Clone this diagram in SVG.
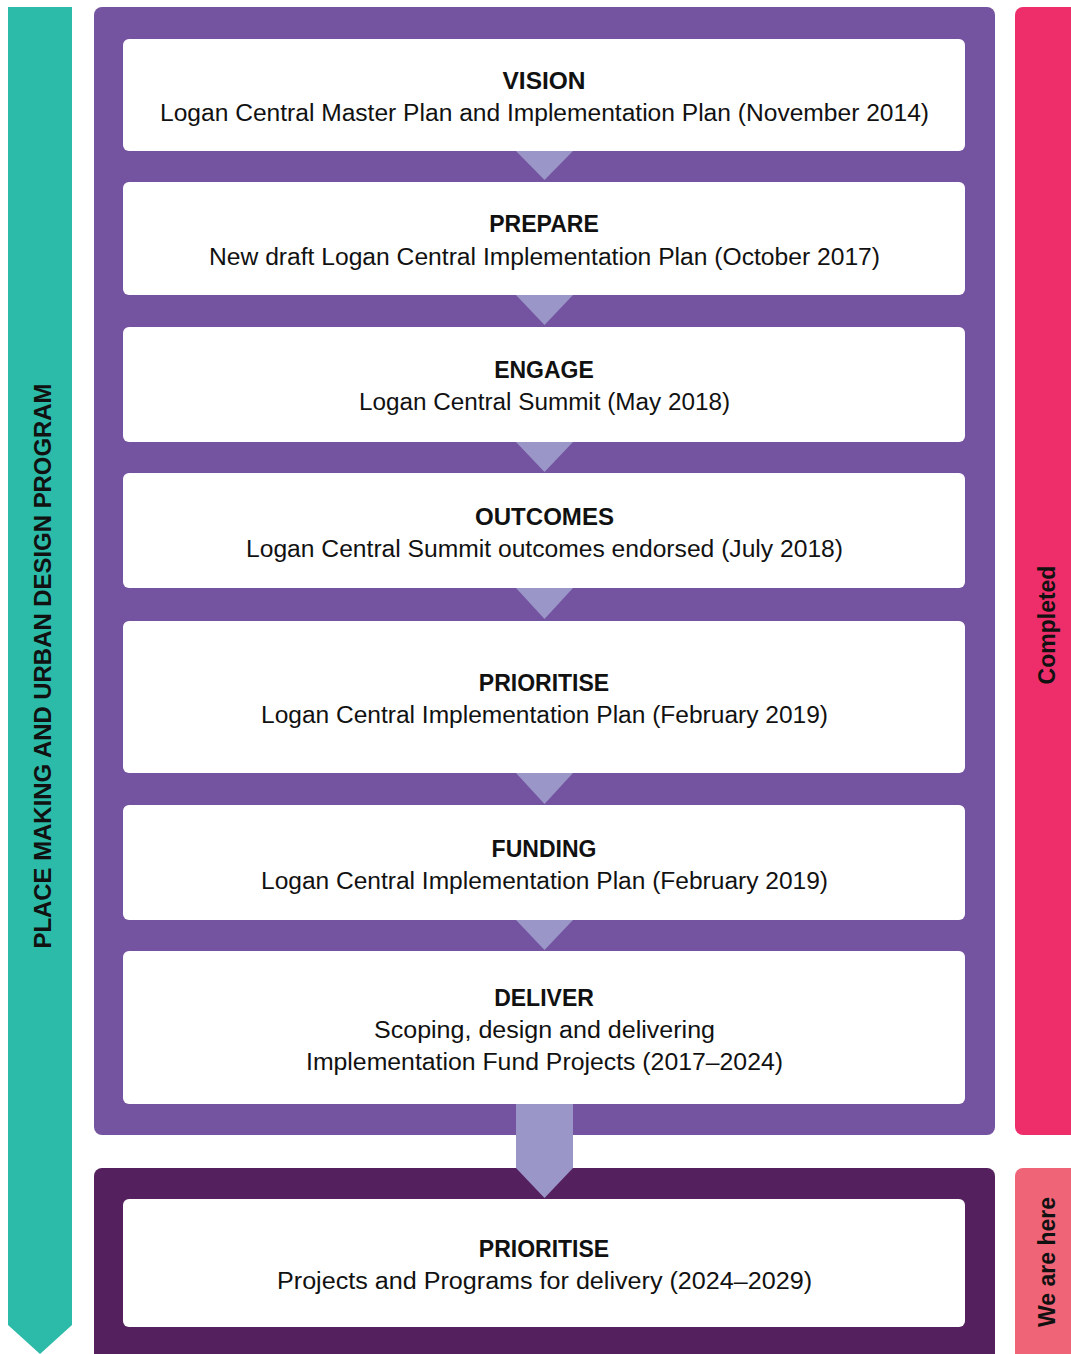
<svg xmlns="http://www.w3.org/2000/svg" width="1071" height="1354" viewBox="0 0 1071 1354">
<style>
.box{fill:#ffffff}
.tri{fill:#9a96c8}
.t{font-family:"Liberation Sans",Arial,sans-serif;font-weight:bold;font-size:23px;fill:#111;text-anchor:middle}
.s{font-family:"Liberation Sans",Arial,sans-serif;font-size:23px;fill:#111;text-anchor:middle}
.v{font-family:"Liberation Sans",Arial,sans-serif;font-weight:bold;font-size:23px;fill:#111;text-anchor:middle}
</style>
<rect width="1071" height="1354" fill="#ffffff"/>
<g id="side-program">
<path d="M8 7 H72 V1325 L40 1354 L8 1325 Z" fill="#2bbba8"/>
<text class="v" transform="translate(51 666) rotate(-90)" textLength="565" lengthAdjust="spacingAndGlyphs">PLACE MAKING AND URBAN DESIGN PROGRAM</text>
</g>
<g id="panel-completed">
<rect x="94" y="7" width="901" height="1128" rx="8" fill="#7453a0"/>
</g>
<g id="panel-current">
<rect x="94" y="1168" width="901" height="200" rx="8" fill="#55205e"/>
</g>
<g id="side-completed">
<rect x="1015" y="7" width="70" height="1128" rx="8" fill="#ee2e6a"/>
<text class="v" transform="translate(1055 625) rotate(-90)">Completed</text>
</g>
<g id="side-here">
<rect x="1015" y="1168" width="70" height="200" rx="8" fill="#f06477"/>
<text class="v" transform="translate(1055 1262) rotate(-90)">We are here</text>
</g>
<g id="connectors">
<polygon class="tri" points="516,151 573,151 544.5,180"/>
<polygon class="tri" points="516,295 573,295 544.5,325"/>
<polygon class="tri" points="516,442 573,442 544.5,472"/>
<polygon class="tri" points="516,588 573,588 544.5,619"/>
<polygon class="tri" points="516,773 573,773 544.5,804"/>
<polygon class="tri" points="516,920 573,920 544.5,950"/>
<polygon class="tri" points="516,1104 573,1104 573,1168 544.5,1198 516,1168"/>
</g>
<g id="vision">
<rect class="box" x="123" y="39" width="842" height="112" rx="6"/>
<text class="t" x="544" y="89" textLength="83" lengthAdjust="spacingAndGlyphs">VISION</text>
<text class="s" x="544.5" y="121" textLength="769" lengthAdjust="spacingAndGlyphs">Logan Central Master Plan and Implementation Plan (November 2014)</text>
</g>
<g id="prepare">
<rect class="box" x="123" y="182" width="842" height="113" rx="6"/>
<text class="t" x="544" y="232">PREPARE</text>
<text class="s" x="544.5" y="265" textLength="671" lengthAdjust="spacingAndGlyphs">New draft Logan Central Implementation Plan (October 2017)</text>
</g>
<g id="engage">
<rect class="box" x="123" y="327" width="842" height="115" rx="6"/>
<text class="t" x="544" y="378">ENGAGE</text>
<text class="s" x="544.5" y="410" textLength="371" lengthAdjust="spacingAndGlyphs">Logan Central Summit (May 2018)</text>
</g>
<g id="outcomes">
<rect class="box" x="123" y="473" width="842" height="115" rx="6"/>
<text class="t" x="544.5" y="525" textLength="139" lengthAdjust="spacingAndGlyphs">OUTCOMES</text>
<text class="s" x="544.5" y="557" textLength="597" lengthAdjust="spacingAndGlyphs">Logan Central Summit outcomes endorsed (July 2018)</text>
</g>
<g id="prioritise">
<rect class="box" x="123" y="621" width="842" height="152" rx="6"/>
<text class="t" x="544" y="691">PRIORITISE</text>
<text class="s" x="544.5" y="723" textLength="567" lengthAdjust="spacingAndGlyphs">Logan Central Implementation Plan (February 2019)</text>
</g>
<g id="funding">
<rect class="box" x="123" y="805" width="842" height="115" rx="6"/>
<text class="t" x="544" y="857">FUNDING</text>
<text class="s" x="544.5" y="889" textLength="567" lengthAdjust="spacingAndGlyphs">Logan Central Implementation Plan (February 2019)</text>
</g>
<g id="deliver">
<rect class="box" x="123" y="951" width="842" height="153" rx="6"/>
<text class="t" x="544" y="1006">DELIVER</text>
<text class="s" x="544.5" y="1038" textLength="341" lengthAdjust="spacingAndGlyphs">Scoping, design and delivering</text>
<text class="s" x="544.5" y="1070" textLength="477" lengthAdjust="spacingAndGlyphs">Implementation Fund Projects (2017–2024)</text>
</g>
<g id="prioritise-next">
<rect class="box" x="123" y="1199" width="842" height="128" rx="6"/>
<text class="t" x="544" y="1257">PRIORITISE</text>
<text class="s" x="544.5" y="1289" textLength="535" lengthAdjust="spacingAndGlyphs">Projects and Programs for delivery (2024–2029)</text>
</g>
</svg>
